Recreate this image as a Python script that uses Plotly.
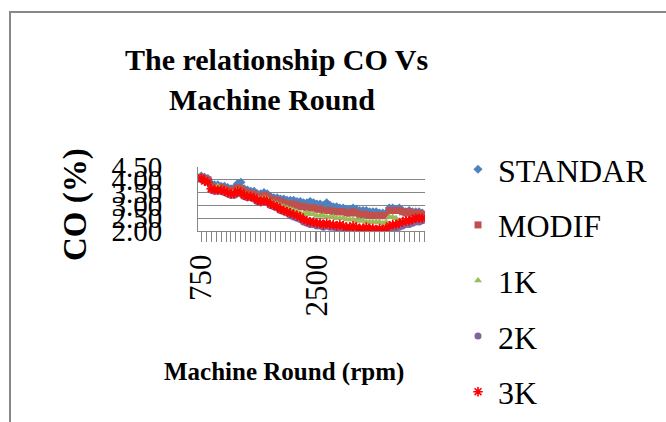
import plotly.graph_objects as go

W, H = 666, 422

rpm = list(range(750, 4101, 50))

standar = [4.15, 4.10, 4.05, 3.85, 3.80, 3.80, 3.75, 3.75, 3.70, 3.65, 3.70, 3.85, 3.90, 3.65, 3.60, 3.55, 3.55,
           3.45, 3.45, 3.50, 3.45, 3.35, 3.30, 3.30, 3.25, 3.25, 3.20, 3.20, 3.20, 3.15, 3.15, 3.10, 3.10, 3.15,
           3.10, 3.05, 3.05, 3.00, 3.10, 3.00, 2.95, 2.95, 2.90, 2.90, 2.85, 2.85, 2.90, 2.85, 2.80, 2.80, 2.80,
           2.75, 2.75, 2.75, 2.70, 2.70, 2.70, 2.90, 2.90, 2.85, 2.90, 2.80, 2.75, 2.80, 2.75, 2.75, 2.75, 2.70]
modif = [4.10, 4.05, 4.00, 3.75, 3.70, 3.70, 3.70, 3.65, 3.60, 3.55, 3.60, 3.70, 3.65, 3.55, 3.50, 3.45, 3.45,
         3.35, 3.35, 3.40, 3.35, 3.25, 3.20, 3.20, 3.15, 3.10, 3.05, 3.05, 3.05, 3.00, 2.95, 2.95, 2.90, 2.90,
         2.90, 2.85, 2.85, 2.80, 2.80, 2.80, 2.75, 2.75, 2.75, 2.75, 2.70, 2.70, 2.75, 2.70, 2.65, 2.65, 2.65,
         2.60, 2.60, 2.60, 2.60, 2.60, 2.60, 2.80, 2.80, 2.80, 2.80, 2.75, 2.70, 2.75, 2.70, 2.70, 2.70, 2.65]
k1 = [4.05, 4.00, 3.95, 3.70, 3.65, 3.75, 3.65, 3.60, 3.55, 3.50, 3.55, 3.60, 3.55, 3.45, 3.40, 3.40, 3.35,
      3.30, 3.25, 3.30, 3.25, 3.15, 3.10, 3.05, 3.00, 2.95, 2.90, 2.85, 2.80, 2.75, 2.70, 2.65, 2.70, 2.65,
      2.65, 2.60, 2.60, 2.60, 2.55, 2.55, 2.55, 2.50, 2.50, 2.50, 2.45, 2.45, 2.45, 2.40, 2.40, 2.40, 2.35,
      2.35, 2.35, 2.35, 2.35, 2.30, 2.35, 2.55, 2.55, 2.50, 2.40, 2.35, 2.35, 2.40, 2.40, 2.45, 2.45, 2.45]
k2 = [4.00, 3.95, 3.90, 3.60, 3.55, 3.55, 3.55, 3.50, 3.45, 3.40, 3.40, 3.50, 3.45, 3.35, 3.30, 3.30, 3.25,
      3.15, 3.10, 3.15, 3.10, 3.00, 2.95, 2.90, 2.80, 2.75, 2.70, 2.60, 2.55, 2.50, 2.45, 2.35, 2.30, 2.25,
      2.25, 2.20, 2.20, 2.15, 2.20, 2.15, 2.15, 2.10, 2.10, 2.10, 2.05, 2.05, 2.10, 2.05, 2.00, 2.00, 2.05,
      2.00, 2.00, 1.95, 1.95, 1.95, 2.00, 2.05, 2.10, 2.10, 2.15, 2.20, 2.25, 2.25, 2.30, 2.35, 2.35, 2.40]
k3 = [4.05, 3.95, 3.90, 3.65, 3.60, 3.60, 3.60, 3.55, 3.50, 3.45, 3.45, 3.55, 3.50, 3.40, 3.35, 3.35, 3.30,
      3.20, 3.15, 3.20, 3.15, 3.05, 3.00, 2.95, 2.85, 2.80, 2.75, 2.70, 2.65, 2.60, 2.55, 2.45, 2.40, 2.35,
      2.35, 2.30, 2.30, 2.25, 2.30, 2.25, 2.25, 2.20, 2.25, 2.20, 2.15, 2.15, 2.20, 2.15, 2.10, 2.10, 2.15,
      2.10, 2.10, 2.05, 2.10, 2.05, 2.10, 2.20, 2.25, 2.25, 2.30, 2.35, 2.40, 2.40, 2.45, 2.50, 2.50, 2.50]

series_names = ["STANDAR", "MODIF", "1K", "2K", "3K"]
series_values = [standar, modif, k1, k2, k3]
series_colors = ["#4F81BD", "#C0504D", "#9BBB59", "#8064A2", "#FF0000"]
series_symbols = ["diamond", "square", "triangle-up", "circle", "asterisk"]

y_ticks = [2.0, 2.5, 3.0, 3.5, 4.0, 4.5]
y_ticktext = ["2.00", "2.50", "3.00", "3.50", "4.00", "4.50"]
x_ticks = [750, 2500]
x_ticktext = ["750", "2500"]

SERIF = "Liberation Serif, Times New Roman, serif"

fig = go.Figure()
for name, vals, col, sym in zip(series_names, series_values, series_colors, series_symbols):
    if sym == "asterisk":
        marker = dict(symbol=sym, size=8, color=col, line=dict(color=col, width=1.6))
    else:
        marker = dict(symbol=sym, size=7, color=col, line=dict(width=0))
    fig.add_trace(go.Scatter(x=rpm, y=vals, mode="markers", name=name, marker=marker,
                             legendgroup=name))

def px_x(p):
    return p / W

def px_y(p):
    return 1 - p / H

YDOM = [px_y(231), px_y(167)]
YRANGE = [2.0, 4.5]

fig.update_layout(
    width=W, height=H,
    margin=dict(l=0, r=0, t=0, b=0, autoexpand=False),
    paper_bgcolor="white", plot_bgcolor="white",
    font=dict(family=SERIF, color="black"),
    showlegend=True,
    legend=dict(x=px_x(458), y=px_y(142), xanchor="left", yanchor="top",
                font=dict(size=32, family=SERIF), tracegroupgap=11,
                bgcolor="rgba(0,0,0,0)", itemwidth=30),
    xaxis=dict(domain=[px_x(198), px_x(425)], range=[700, 4140], automargin=False,
               tickmode="array", tickvals=x_ticks, ticktext=x_ticktext,
               tickangle=-90, tickfont=dict(size=31, family=SERIF),
               ticks="outside", ticklen=10, tickcolor="#868686",
               minor=dict(ticks="outside", dtick=75, tick0=750, ticklen=10, tickcolor="#868686", showgrid=False),
               showline=True, linecolor="#868686", linewidth=1, showgrid=False, zeroline=False),
    # main y axis: labels pushed left by long transparent ticks
    yaxis=dict(domain=YDOM, range=YRANGE, automargin=False,
               tickmode="array", tickvals=y_ticks, ticktext=y_ticktext,
               tickfont=dict(size=29, family=SERIF),
               ticks="outside", ticklen=29, tickcolor="rgba(0,0,0,0)",
               showline=True, linecolor="#868686", linewidth=1,
               showgrid=True, gridcolor="#868686", gridwidth=1, zeroline=False),
    # companion axis: short visible tick marks
    yaxis2=dict(domain=YDOM, range=YRANGE, overlaying="y", side="left", anchor="x",
                automargin=False, tickmode="array", tickvals=y_ticks, showticklabels=False,
                ticks="outside", ticklen=8, tickcolor="#868686",
                showline=False, showgrid=False, zeroline=False),
    annotations=[
        dict(text="<b>The relationship CO Vs</b>", x=px_x(276), y=px_y(59), xref="paper", yref="paper",
             xanchor="center", yanchor="middle", showarrow=False, font=dict(size=30, family=SERIF)),
        dict(text="<b>Machine Round</b>", x=px_x(272), y=px_y(99), xref="paper", yref="paper",
             xanchor="center", yanchor="middle", showarrow=False, font=dict(size=30, family=SERIF)),
        dict(text="<b>CO (%)</b>", x=px_x(76), y=px_y(205), xref="paper", yref="paper",
             xanchor="center", yanchor="middle", showarrow=False, textangle=-90,
             font=dict(size=33, family=SERIF)),
        dict(text="<b>Machine Round (rpm)</b>", x=px_x(284), y=px_y(372), xref="paper", yref="paper",
             xanchor="center", yanchor="middle", showarrow=False, font=dict(size=25, family=SERIF)),
    ],
    shapes=[
        dict(type="rect", xref="paper", yref="paper", x0=px_x(10), x1=px_x(700), y0=px_y(12), y1=px_y(450),
             line=dict(color="#888888", width=2), fillcolor="rgba(0,0,0,0)", layer="below"),
    ],
)

fig.write_html("out.html")
